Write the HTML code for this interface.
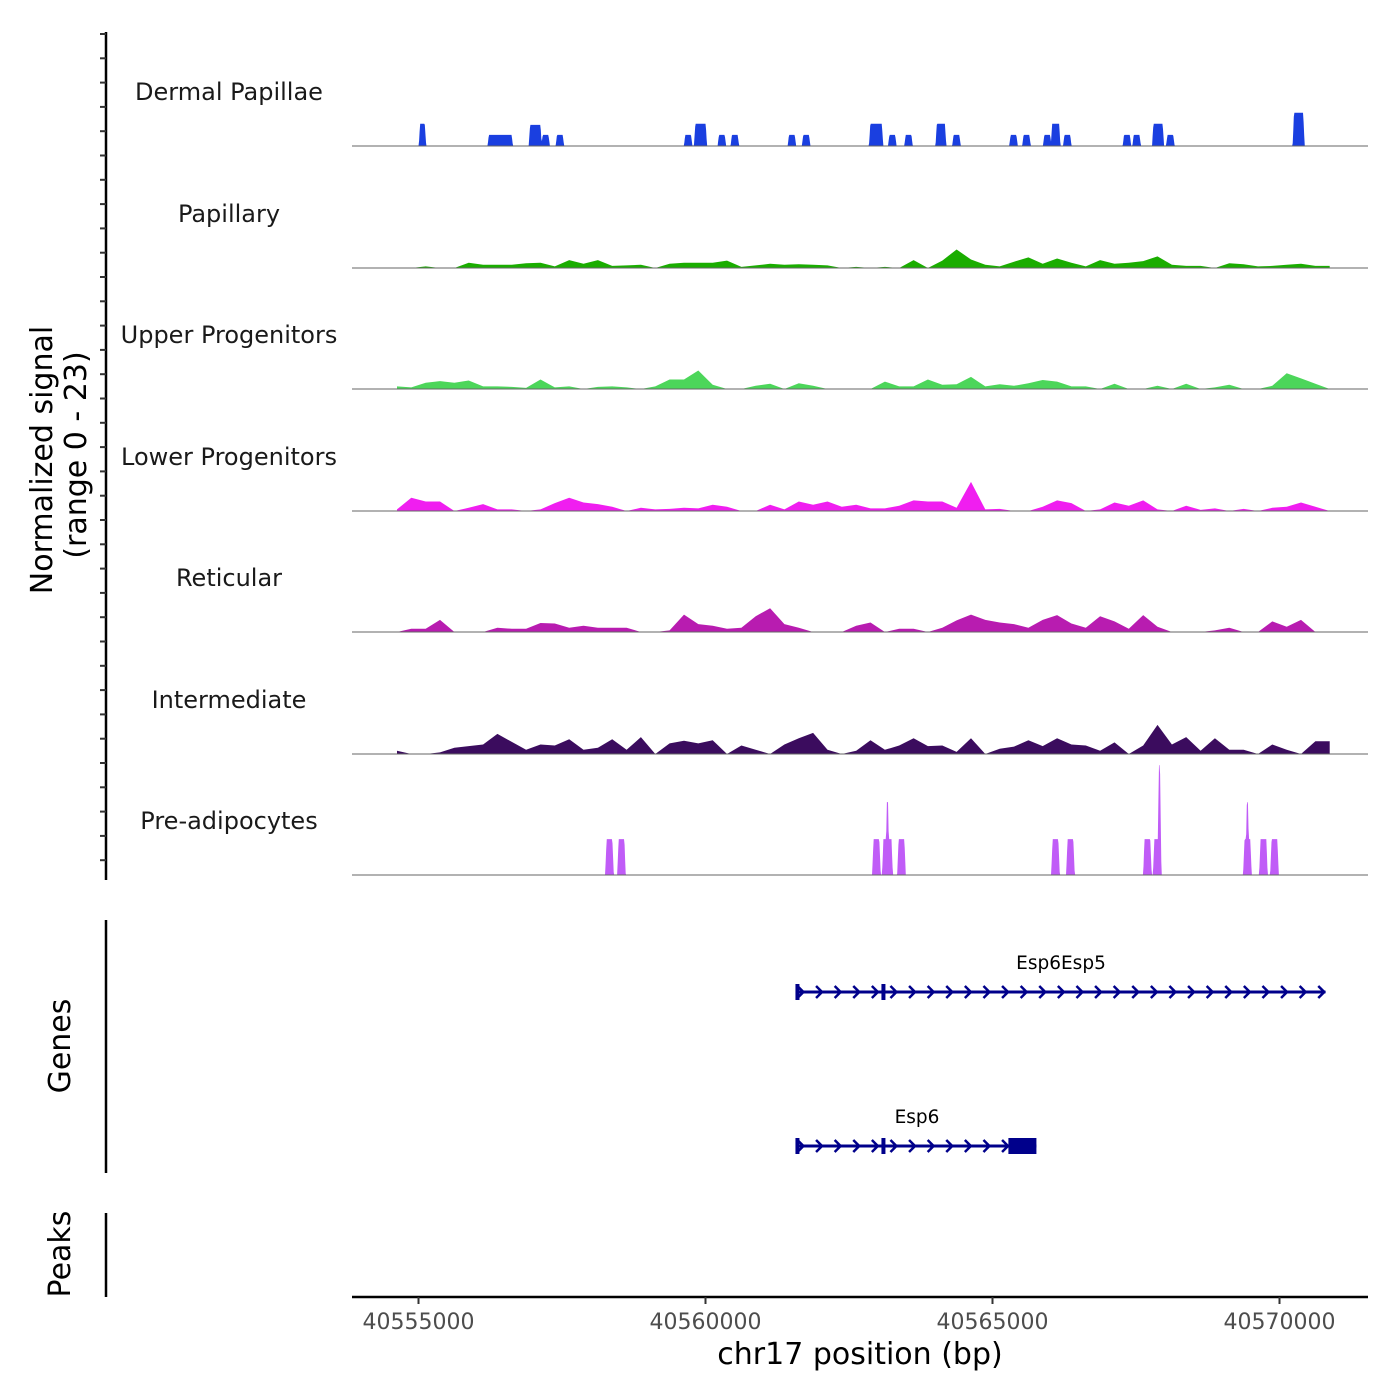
<!DOCTYPE html>
<html><head><meta charset="utf-8">
<style>
html,body{margin:0;padding:0;background:#fff;}
svg{display:block;font-family:"DejaVu Sans","Liberation Sans",sans-serif;}
</style></head>
<body>
<svg id="chart" width="1400" height="1400" viewBox="0 0 1400 1400" xmlns="http://www.w3.org/2000/svg">
<rect width="1400" height="1400" fill="#fff"/>
<g id="tracks"></g>
<g id="genes"></g>
<g id="axes"></g>
<text transform="translate(52,460) rotate(-90)" text-anchor="middle" font-size="30" fill="#000">Normalized signal</text>
<text transform="translate(86,455) rotate(-90)" text-anchor="middle" font-size="30" fill="#000">(range 0 - 23)</text>
<text transform="translate(70,1046) rotate(-90)" text-anchor="middle" font-size="30" fill="#000">Genes</text>
<text transform="translate(70,1254) rotate(-90)" text-anchor="middle" font-size="30" fill="#000">Peaks</text>
<text x="860" y="1364" text-anchor="middle" font-size="30" fill="#000">chr17 position (bp)</text>
</svg>
<script>
// ---- data ----
const trackNames = ["Dermal Papillae","Papillary","Upper Progenitors","Lower Progenitors","Reticular","Intermediate","Pre-adipocytes"];
const trackColors = ["#1a3fe0","#1aad00","#4cd65a","#f01ef0","#b81cb0","#3b0c5e","#c05cf7"];
const xTicks = [40555000,40560000,40565000,40570000];
const binStart = 40554500;
const binSize = 250;
const papillary = [0,0,0.3,0,0,1.0,0.6,0.6,0.6,0.9,1.0,0.3,1.5,0.8,1.5,0.4,0.5,0.6,0,0.8,1.0,1.0,1.0,1.4,0.2,0.5,0.8,0.6,0.7,0.6,0.5,0,0.2,0,0.2,0,1.5,0,1.4,3.5,1.6,0.6,0.3,1.2,2.0,0.8,1.8,1.0,0.3,1.5,0.8,1.0,1.3,2.2,0.6,0.4,0.4,0,0.9,0.7,0.3,0.4,0.6,0.8,0.4,0.4];
const upperProg = [0.5,0.3,1.2,1.5,1.2,1.6,0.5,0.5,0.4,0.2,1.8,0.3,0.5,0,0.4,0.5,0.3,0,0.5,1.8,1.8,3.5,0.8,0,0,0.6,1.0,0,1.1,0.6,0,0,0,0,1.4,0.5,0.5,1.8,0.8,0.9,2.3,0.5,0.9,0.6,1.1,1.7,1.4,0.5,0.5,0,1.0,0,0,0.6,0,1.0,0,0.3,0.8,0,0,0.6,3.0,2.0,1.0,0];
const lowerProg = [0.3,2.5,1.8,1.8,0,0.6,1.3,0.3,0.3,0,0.3,1.5,2.5,1.6,1.3,0.8,0,0.6,0.3,0.4,0.6,0.5,1.2,0.8,0,0,1.2,0.3,1.8,1.2,1.8,0.8,1.2,0.5,0.5,1.0,2.0,1.8,1.8,0.6,5.5,0.3,0.4,0,0,0.8,2.0,1.5,0,0.3,1.6,1.0,2.0,0.3,0,1.0,0.2,0.5,0,0.4,0,0.6,0.8,1.6,0.8,0];
const reticular = [0,0.6,0.6,2.3,0,0,0,0.8,0.6,0.6,1.7,1.6,0.8,1.2,0.8,0.8,0.8,0,0,0.3,3.3,1.5,1.2,0.6,0.8,3.0,4.5,1.5,0.8,0,0,0,1.2,1.8,0,0.6,0.6,0,0.8,2.2,3.3,2.3,1.8,1.5,0.8,2.3,3.2,1.6,0.8,3.0,2.0,0.6,3.2,1.0,0,0,0,0.3,0.8,0,0,2.0,1.0,2.3,0,0];
const intermediate = [0.6,0,0,0.3,1.2,1.5,1.8,3.8,2.3,0.8,1.8,1.6,2.8,0.8,1.2,2.8,0.8,3.2,0,2.0,2.5,2.0,2.6,0,1.6,0.8,0,1.8,3.0,4.0,0.8,0,0.6,2.6,0.8,1.6,3.0,1.5,1.6,0.4,3.0,0,1.0,1.4,2.6,1.5,3.0,1.8,1.6,0.6,2.2,0,1.6,5.5,1.8,3.2,0.6,3.0,0.8,0.8,0,1.8,0.8,0,2.4,2.4];
// peak tracks: positions (bp), flat widths (bp), heights
const dermalPos = [40555069,40556424,40557034,40557214,40557463,40559698,40559913,40560285,40560511,40561505,40561753,40562972,40563254,40563537,40564101,40564372,40565366,40565592,40565953,40566100,40566303,40567342,40567511,40567884,40568098,40570333];
const dermalWidth = [80,395,180,100,100,100,180,100,100,100,100,200,100,100,140,100,100,100,100,120,100,100,100,160,100,160];
const dermalHeight = [4.2,2.1,4.0,2.1,2.1,2.1,4.2,2.1,2.1,2.1,2.1,4.2,2.1,2.1,4.2,2.1,2.1,2.1,2.1,4.2,2.1,2.1,2.1,4.2,2.1,6.3];
const preadipPos = [40558327,40558536,40562978,40563170,40563170,40563414,40566097,40566358,40567699,40567860,40567908,40569441,40569441,40569720,40569912];
const preadipWidth = [100,100,100,140,20,100,100,100,100,80,20,100,20,100,100];
const preadipHeight = [6.8,6.8,6.8,6.8,13.8,6.8,6.8,6.8,6.8,6.8,20.8,6.8,13.8,6.8,6.8];
const geneNames = ["Esp6Esp5","Esp6"];
const geneStart = [40561602,40561602];
const geneEnd = [40570800,40565765];
const exonPos = [[40561602,40563100],[40561602,40563100]];
const cdsStart = [null,40565277];
const cdsEnd = [null,40565765];

// ---- scales ----
const NS = "http://www.w3.org/2000/svg";
const X0 = 352, X1 = 1368;
function xs(bp){ return 418.5 + (bp - 40555000) * 0.0574; }
const trackH = 121.5, vmax = 23;
const baselines = [146,268,389,511,632,754,875];
function ys(i, v){ return baselines[i] - v * trackH / vmax; }
function mk(tag, attrs, parent){ const e = document.createElementNS(NS, tag); for (const k in attrs) e.setAttribute(k, attrs[k]); parent.appendChild(e); return e; }

const tracksG = document.getElementById('tracks');
const binned = {1:papillary,2:upperProg,3:lowerProg,4:reticular,5:intermediate};

function peakVal(bp, pos, wid, hei){
  let m = 0;
  for (let k = 0; k < pos.length; k++){
    const d = Math.abs(bp - pos[k]) - wid[k]/2;
    const slope = 25;
    let v = d <= 0 ? hei[k] : (d < slope ? hei[k] * (1 - d/slope) : 0);
    if (v > m) m = v;
  }
  return m;
}

for (let i = 0; i < 7; i++){
  const g = mk('g', {}, tracksG);
  
  
  const lbl = mk('text', {x:229, y:baselines[i]-46, 'text-anchor':'middle', 'font-size':'24', fill:'#1a1a1a'}, g);
  lbl.textContent = trackNames[i];
  
  
  let pts = [];
  if (binned[i]){
    const arr = binned[i];
    pts.push([xs(binStart + binSize/2), baselines[i]]);
    for (let b = 0; b < arr.length; b++){
      pts.push([xs(binStart + b*binSize + binSize/2), ys(i, arr[b])]);
    }
    pts.push([xs(binStart + (arr.length-0.5)*binSize), baselines[i]]);
  } else {
    const pos = i === 0 ? dermalPos : preadipPos;
    const wid = i === 0 ? dermalWidth : preadipWidth;
    const hei = i === 0 ? dermalHeight : preadipHeight;
    pts.push([X0, baselines[i]]);
    for (let bp = 40553850; bp <= 40571550; bp += 10){
      pts.push([xs(bp), ys(i, peakVal(bp, pos, wid, hei))]);
    }
    pts.push([X1, baselines[i]]);
  }
  const area = mk('polygon', {points: pts.map(p => p[0].toFixed(1)+','+p[1].toFixed(1)).join(' '), fill: trackColors[i], stroke:'none'}, g);
  
  
  const bl = mk('line', {x1:X0, x2:X1, y1:baselines[i], y2:baselines[i], stroke:'#666', 'stroke-width':1}, g);
  
  
}

// ---- genes ----
const genesG = document.getElementById('genes');
const geneY = [992, 1146];
const navy = '#00008b';
for (let j = 0; j < geneNames.length; j++){
  const g = mk('g', {}, genesG);
  
  
  const y = geneY[j], xa = xs(geneStart[j]), xb = xs(geneEnd[j]);
  const ln = mk('line', {x1:xa, x2:xb, y1:y, y2:y, stroke:navy, 'stroke-width':3}, g);
  
  
  for (let cx = xa + 4; cx <= xb - 2; cx += 18.6){
    const c = mk('polyline', {points:(cx-4)+','+(y-6)+' '+(cx+2)+','+y+' '+(cx-4)+','+(y+6), fill:'none', stroke:navy, 'stroke-width':2.5}, g);
    
    
  }
  for (const e of exonPos[j]){
    const r = mk('rect', {x:xs(e)-2, y:y-8, width:4, height:16, fill:navy}, g);
    
    
  }
  if (cdsStart[j] !== null){
    const r = mk('rect', {x:xs(cdsStart[j]), y:y-8, width:xs(cdsEnd[j])-xs(cdsStart[j]), height:16, fill:navy}, g);
    
    
  }
  const t = mk('text', {x:(j===0? 1061 : 917), y:y-23, 'text-anchor':'middle', 'font-size':'18.5', fill:'#000'}, g);
  t.textContent = geneNames[j];
  
  
}

// ---- axes ----
const axG = document.getElementById('axes');
const la = mk('line', {x1:106, x2:106, y1:32, y2:880, stroke:'#000', 'stroke-width':2.5}, axG);


for (let y = 34; y <= 878; y += 24.3){
  const t = mk('line', {x1:100, x2:106, y1:y, y2:y, stroke:'#333', 'stroke-width':2}, axG);
  
  
}
const lg = mk('line', {x1:106, x2:106, y1:920, y2:1173, stroke:'#000', 'stroke-width':2.5}, axG);


const lp = mk('line', {x1:106, x2:106, y1:1213, y2:1297, stroke:'#000', 'stroke-width':2.5}, axG);


const xl = mk('line', {x1:X0, x2:X1, y1:1297, y2:1297, stroke:'#000', 'stroke-width':2.5}, axG);


for (const tv of xTicks){
  const tk = mk('line', {x1:xs(tv), x2:xs(tv), y1:1297, y2:1304, stroke:'#333', 'stroke-width':2}, axG);
  
  
  const tl = mk('text', {x:xs(tv), y:1329, 'text-anchor':'middle', 'font-size':'22', fill:'#4d4d4d'}, axG);
  tl.textContent = String(tv);
  
  
}
</script>
</body></html>
